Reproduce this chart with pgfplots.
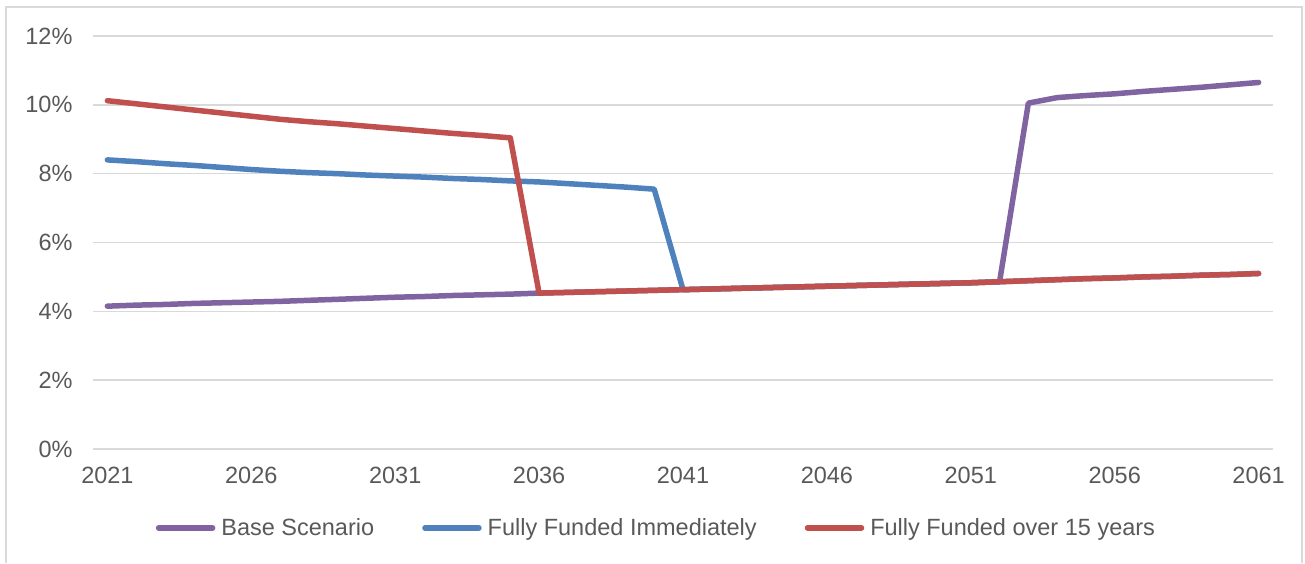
\documentclass[border=0pt]{standalone}
\usepackage{pgfplots}
\pgfplotsset{compat=1.18}
\usepackage{fontspec}
\setmainfont{Liberation Sans}
\definecolor{basec}{HTML}{8064A2}
\definecolor{immc}{HTML}{4F81BD}
\definecolor{fifc}{HTML}{C0504D}
\definecolor{gridc}{HTML}{D9D9D9}
\definecolor{txtc}{HTML}{595959}
\begin{document}
\begin{tikzpicture}[x=1pt,y=1pt]
\useasboundingbox (0,0) rectangle (1305,563);
% outer chart frame
\draw[gridc, line width=1.5pt] (6,0) -- (6,556) -- (1302,556) -- (1302,0);
\begin{axis}[
  at={(93pt,114pt)}, anchor=south west,
  scale only axis, width=1180pt, height=413pt,
  xmin=2020.5, xmax=2061.5, ymin=0, ymax=12,
  xtick={2021,2026,...,2061}, ytick={0,2,...,12},
  axis line style={draw=none},
  major tick length=0pt,
  ymajorgrids, grid style={gridc, line width=1.5pt},
  tick label style={font=\fontsize{23.5}{28}\selectfont, text=txtc},
  /pgf/number format/assume math mode=true,
  /pgf/number format/1000 sep={},
  yticklabel={\pgfmathprintnumber{\tick}\%},
  xticklabel style={yshift=-15pt},
  yticklabel style={xshift=-17pt},
  legend columns=3,
  legend style={at={(0.4775,-0.191)}, anchor=center, draw=none, fill=none,
    font=\fontsize{23.5}{28}\selectfont, text=txtc, inner sep=0pt,
    /tikz/every odd column/.append style={column sep=4pt},
    /tikz/every even column/.append style={column sep=46pt}},
  legend image code/.code={\draw[#1, line cap=round] (0pt,0pt) -- (54pt,0pt);},
  every axis plot/.append style={line width=5.5pt, line join=round, line cap=round},
]
\addplot[basec] coordinates {
 (2021,4.15) (2022,4.18) (2023,4.20) (2024,4.23) (2025,4.25) (2026,4.27)
 (2027,4.29) (2028,4.32) (2029,4.35) (2030,4.38) (2031,4.41) (2032,4.43)
 (2033,4.46) (2034,4.48) (2035,4.50) (2036,4.53) (2037,4.55) (2038,4.57)
 (2039,4.59) (2040,4.61) (2041,4.63) (2042,4.65) (2043,4.67) (2044,4.69)
 (2045,4.71) (2046,4.73) (2047,4.75) (2048,4.77) (2049,4.79) (2050,4.81)
 (2051,4.83) (2052,4.86) (2053,10.05) (2054,10.21) (2055,10.27) (2056,10.32)
 (2057,10.39) (2058,10.45) (2059,10.51) (2060,10.58) (2061,10.65)};
\addlegendentry{Base Scenario}
\addplot[immc] coordinates {
 (2021,8.40) (2022,8.35) (2023,8.29) (2024,8.24) (2025,8.18) (2026,8.12)
 (2027,8.07) (2028,8.03) (2029,8.00) (2030,7.96) (2031,7.93) (2032,7.90)
 (2033,7.86) (2034,7.83) (2035,7.79) (2036,7.76) (2037,7.71) (2038,7.66)
 (2039,7.61) (2040,7.55) (2041,4.63) (2042,4.65) (2043,4.67) (2044,4.69)
 (2045,4.71) (2046,4.73) (2047,4.75) (2048,4.77) (2049,4.79) (2050,4.81)
 (2051,4.83) (2052,4.86) (2053,4.89) (2054,4.92) (2055,4.95) (2056,4.97)
 (2057,5.00) (2058,5.02) (2059,5.05) (2060,5.07) (2061,5.10)};
\addlegendentry{Fully Funded Immediately}
\addplot[fifc] coordinates {
 (2021,10.12) (2022,10.03) (2023,9.94) (2024,9.85) (2025,9.76) (2026,9.67)
 (2027,9.58) (2028,9.51) (2029,9.45) (2030,9.38) (2031,9.31) (2032,9.24)
 (2033,9.17) (2034,9.11) (2035,9.04) (2036,4.53) (2037,4.55) (2038,4.57)
 (2039,4.59) (2040,4.61) (2041,4.63) (2042,4.65) (2043,4.67) (2044,4.69)
 (2045,4.71) (2046,4.73) (2047,4.75) (2048,4.77) (2049,4.79) (2050,4.81)
 (2051,4.83) (2052,4.86) (2053,4.89) (2054,4.92) (2055,4.95) (2056,4.97)
 (2057,5.00) (2058,5.02) (2059,5.05) (2060,5.07) (2061,5.10)};
\addlegendentry{Fully Funded over 15 years}
\end{axis}
\end{tikzpicture}
\end{document}
